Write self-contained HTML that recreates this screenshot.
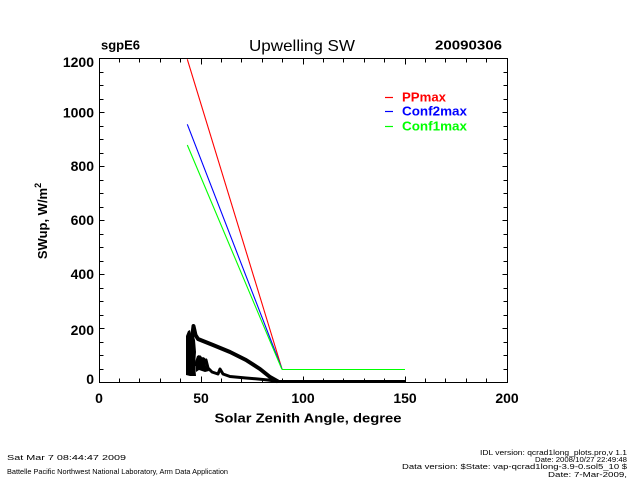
<!DOCTYPE html>
<html><head><meta charset="utf-8"><style>
html,body{margin:0;padding:0;background:#fff;}
svg{display:block;}
text{font-family:"Liberation Sans",sans-serif;}
</style></head><body>
<svg width="640" height="480" viewBox="0 0 640 480" xmlns="http://www.w3.org/2000/svg">
<rect width="640" height="480" fill="#fff"/>
<!-- titles -->
<text x="101" y="49.5" font-size="13" font-weight="bold" textLength="39" lengthAdjust="spacingAndGlyphs">sgpE6</text>
<text x="302" y="51" font-size="16" text-anchor="middle" textLength="106" lengthAdjust="spacingAndGlyphs">Upwelling SW</text>
<text x="502" y="49.5" font-size="13" font-weight="bold" text-anchor="end" textLength="67" lengthAdjust="spacingAndGlyphs">20090306</text>

<!-- axes box -->
<g stroke="#000" stroke-width="1" fill="none" shape-rendering="crispEdges">
<rect x="99.5" y="58.5" width="408" height="324"/>
<path d="M99.5,369.5h4M99.5,355.5h4M99.5,342.5h4M99.5,315.5h4M99.5,301.5h4M99.5,288.5h4M99.5,261.5h4M99.5,247.5h4M99.5,234.5h4M99.5,207.5h4M99.5,193.5h4M99.5,180.5h4M99.5,153.5h4M99.5,139.5h4M99.5,126.5h4M99.5,99.5h4M99.5,85.5h4M99.5,72.5h4
M99.5,328.5h5M99.5,274.5h5M99.5,220.5h5M99.5,166.5h5M99.5,112.5h5
M507.5,369.5h-4M507.5,355.5h-4M507.5,342.5h-4M507.5,315.5h-4M507.5,301.5h-4M507.5,288.5h-4M507.5,261.5h-4M507.5,247.5h-4M507.5,234.5h-4M507.5,207.5h-4M507.5,193.5h-4M507.5,180.5h-4M507.5,153.5h-4M507.5,139.5h-4M507.5,126.5h-4M507.5,99.5h-4M507.5,85.5h-4M507.5,72.5h-4
M507.5,328.5h-5M507.5,274.5h-5M507.5,220.5h-5M507.5,166.5h-5M507.5,112.5h-5"/>
<path d="M119.5,382.5v-4M139.5,382.5v-4M160.5,382.5v-4M180.5,382.5v-4M221.5,382.5v-4M241.5,382.5v-4M262.5,382.5v-4M282.5,382.5v-4M323.5,382.5v-4M343.5,382.5v-4M364.5,382.5v-4M384.5,382.5v-4M425.5,382.5v-4M445.5,382.5v-4M466.5,382.5v-4M486.5,382.5v-4
M201.5,382.5v-6M303.5,382.5v-6M405.5,382.5v-6
M119.5,58.5v4M139.5,58.5v4M160.5,58.5v4M180.5,58.5v4M221.5,58.5v4M241.5,58.5v4M262.5,58.5v4M282.5,58.5v4M323.5,58.5v4M343.5,58.5v4M364.5,58.5v4M384.5,58.5v4M425.5,58.5v4M445.5,58.5v4M466.5,58.5v4M486.5,58.5v4
M201.5,58.5v6M303.5,58.5v6M405.5,58.5v6"/>
</g>

<!-- y tick labels -->
<g font-size="14" font-weight="bold" text-anchor="end">
<text x="94" y="67">1200</text>
<text x="94" y="117.5">1000</text>
<text x="94" y="171">800</text>
<text x="94" y="225">600</text>
<text x="94" y="279">400</text>
<text x="94" y="335">200</text>
<text x="94" y="384">0</text>
</g>
<!-- x tick labels -->
<g font-size="14" font-weight="bold" text-anchor="middle">
<text x="99" y="403">0</text>
<text x="201" y="403">50</text>
<text x="303" y="403">100</text>
<text x="405" y="403">150</text>
<text x="507" y="403">200</text>
</g>
<text x="308" y="422.5" font-size="13" font-weight="bold" text-anchor="middle" textLength="187" lengthAdjust="spacingAndGlyphs">Solar Zenith Angle, degree</text>
<text transform="translate(47,221) rotate(-90)" font-size="13" font-weight="bold" text-anchor="middle">SWup, W/m<tspan font-size="9" dy="-6">2</tspan></text>

<!-- black data -->
<g fill="none" stroke="#000" stroke-linejoin="round">
<path stroke-width="4" d="M192,338 L193.5,326 L195.5,335 L198,339 L213,345 L230,352 L246,360 L260,369 L270,377 L278,381.5"/>
<path stroke-width="3" d="M195,366 L198,359 L200,357 L203,362 L206,360 L208,368 L212,372 L218,374 L220,369 L223,374 L230,376.5 L246,378 L258,379 L268,380 L278,381.5 L405,381.5"/>
</g>
<path fill="#000" d="M186,375 L186,336 L188,331 L190,330 L191,335 L193,333 L195,340 L196,352 L195,365 L196,376 L190,376 Z"/>
<path fill="#000" d="M195,362 L197,356 L199,355 L201,358 L203,357 L205,358 L206,366 L209,371 L205,372 L199,370 L196,372 Z"/>

<!-- model lines -->
<g fill="none" stroke-width="1.1">
<polyline stroke="#ff0000" points="187.3,59.3 282,369"/>
<polyline stroke="#0000ff" points="187.3,124.3 282,369"/>
<polyline stroke="#00ff00" points="187.3,145 282,369.5"/>
</g>
<line x1="282" y1="369.5" x2="405" y2="369.5" stroke="#00ff00" stroke-width="1" shape-rendering="crispEdges"/>

<!-- legend -->
<g stroke-width="1.2">
<line x1="385" y1="97.5" x2="393" y2="97.5" stroke="#ff0000"/>
<line x1="385" y1="111.5" x2="393" y2="111.5" stroke="#0000ff"/>
<line x1="385" y1="126.5" x2="393" y2="126.5" stroke="#00ff00"/>
</g>
<g font-size="13" font-weight="bold">
<text x="402" y="101.5" fill="#ff0000" textLength="44" lengthAdjust="spacingAndGlyphs">PPmax</text>
<text x="402" y="115.5" fill="#0000ff" textLength="65" lengthAdjust="spacingAndGlyphs">Conf2max</text>
<text x="402" y="130.5" fill="#00ff00" textLength="65" lengthAdjust="spacingAndGlyphs">Conf1max</text>
</g>

<!-- footer -->
<g font-size="7.5">
<text x="7" y="460" textLength="119" lengthAdjust="spacingAndGlyphs">Sat Mar  7 08:44:47 2009</text>
<text x="7" y="474" textLength="221" lengthAdjust="spacingAndGlyphs">Battelle Pacific Northwest National Laboratory, Arm Data Application</text>
<text x="627" y="455" text-anchor="end" textLength="147" lengthAdjust="spacingAndGlyphs">IDL version: qcrad1long_plots.pro,v 1.1</text>
<text x="627" y="462" text-anchor="end" textLength="92" lengthAdjust="spacingAndGlyphs">Date: 2008/10/27 22:49:48</text>
<text x="627" y="469" text-anchor="end" textLength="225" lengthAdjust="spacingAndGlyphs">Data version: $State: vap-qcrad1long-3.9-0.sol5_10 $</text>
<text x="627" y="477" text-anchor="end" textLength="79" lengthAdjust="spacingAndGlyphs">Date: 7-Mar-2009,</text>
</g>
</svg>
</body></html>
